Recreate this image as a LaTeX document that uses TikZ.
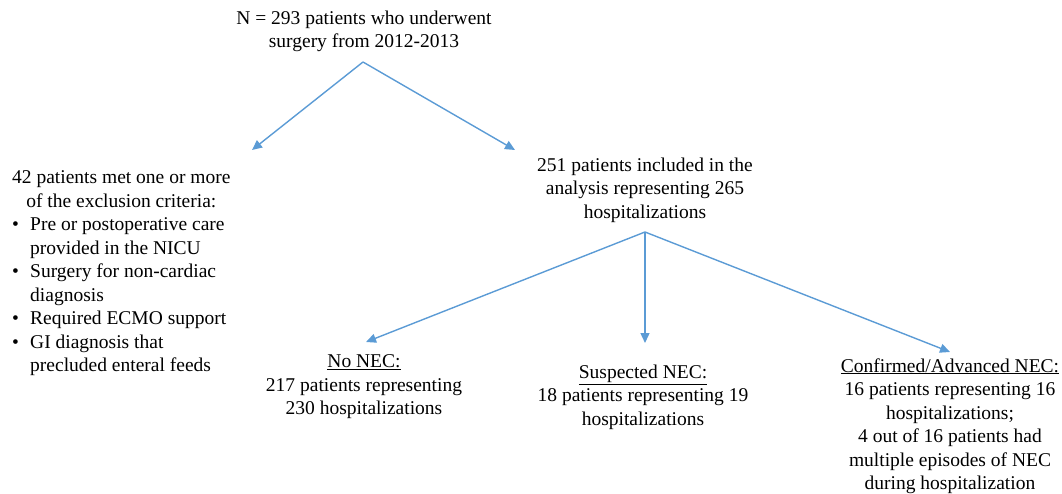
\documentclass[tikz,border=0pt]{standalone}
\usepackage{fontspec}
\setmainfont{Liberation Serif}
\usetikzlibrary{arrows.meta}
\definecolor{arrowblue}{RGB}{91,155,213}
\begin{document}
\begin{tikzpicture}[x=1pt,y=-1pt,
  txt/.style={font=\fontsize{19.5}{23.5}\selectfont, align=center, inner sep=0pt},
  arr/.style={draw=arrowblue, line width=1.4pt, -{Triangle[length=10pt,width=9pt]}}]
\useasboundingbox (0,0) rectangle (1062,494);
% nodes
\node[txt] (top) at (364,31.5) {N = 293 patients who underwent\\surgery from 2012-2013};
\node[txt, anchor=west] (excl) at (12,273) {%
  \begin{tabular}{@{}p{18pt}@{}l@{}}
  \multicolumn{2}{@{}c@{}}{42 patients met one or more}\\
  \multicolumn{2}{@{}c@{}}{of the exclusion criteria:}\\
  \textbullet & Pre or postoperative care\\
   & provided in the NICU\\
  \textbullet & Surgery for non-cardiac\\
   & diagnosis\\
  \textbullet & Required ECMO support\\
  \textbullet & GI diagnosis that\\
   & precluded enteral feeds
  \end{tabular}};
\node[txt] (incl) at (645,190) {251 patients included in the\\analysis representing 265\\hospitalizations};
\node[txt] (nonec) at (364,387) {\underline{No NEC:}\\217 patients representing\\230 hospitalizations};
\node[txt] (susp) at (643,397) {\underline{Suspected NEC:}\\18 patients representing 19\\hospitalizations};
\node[txt] (conf) at (950,426) {\underline{Confirmed/Advanced NEC:}\\16 patients representing 16\\hospitalizations;\\4 out of 16 patients had\\multiple episodes of NEC\\during hospitalization};
% connector points
\coordinate (fork1) at (363,62);
\coordinate (exclin) at (252,150);
\coordinate (inclin) at (515,150);
\coordinate (fork2) at (645,232);
\coordinate (nonecin) at (366,342);
\coordinate (suspin) at (645,343);
\coordinate (confin) at (950,352);
% connectors
\draw[arr] (fork1) -- (exclin);
\draw[arr] (fork1) -- (inclin);
\draw[arr] (fork2) -- (nonecin);
\draw[arr] (fork2) -- (suspin);
\draw[arr] (fork2) -- (confin);
\end{tikzpicture}
\end{document}
